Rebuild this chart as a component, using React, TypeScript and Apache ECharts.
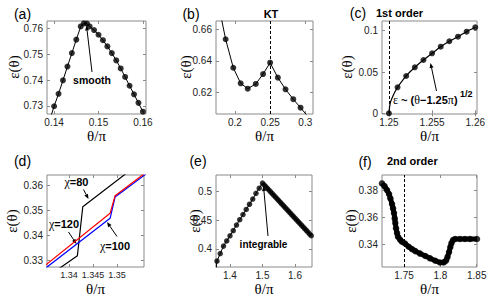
import React, { useEffect, useRef } from "react";
import * as echarts from "echarts";

// ---------- data ----------
// (a) smooth
const aTailTheta = [0.1392];
const aTailEps = [0.7255];
const aTheta = [0.140, 0.141, 0.142, 0.143, 0.144, 0.145, 0.146, 0.1467, 0.1474, 0.148, 0.149, 0.150, 0.151, 0.152, 0.153, 0.154, 0.155, 0.156, 0.157, 0.158, 0.159, 0.160];
const aEps = [0.7299, 0.7347, 0.7399, 0.7452, 0.7504, 0.7556, 0.7607, 0.7619, 0.7618, 0.7607, 0.7593, 0.7575, 0.7554, 0.7530, 0.7504, 0.7476, 0.7445, 0.7412, 0.7378, 0.7345, 0.7312, 0.7278];

// (b) KT
const bStartTheta = [0.181];
const bStartEps = [0.6662];
const bTheta = [0.1867, 0.1976, 0.2081, 0.2181, 0.2296, 0.2400, 0.2500, 0.2610, 0.2719, 0.2829, 0.2933];
const bEps = [0.6537, 0.6356, 0.6257, 0.6223, 0.6253, 0.6316, 0.6388, 0.6293, 0.6219, 0.6156, 0.6102];
const bEndTheta = [0.3040];
const bEndEps = [0.6045];

// (c) 1st order
const cTheta = [1.250, 1.251, 1.252, 1.253, 1.254, 1.255, 1.256, 1.257, 1.258, 1.259, 1.260];
const cEps = [0, 0.0315, 0.0452, 0.0557, 0.0645, 0.0726, 0.0806, 0.0872, 0.0927, 0.0988, 0.1041];
const cCurveTheta = [1.25015, 1.25043, 1.2507];
const cCurveEps = [0.0122, 0.0201, 0.0262];

// (d) chi = 80, 100, 120
const d80Theta = [1.33708, 1.34173, 1.34285, 1.35375];
const d80Eps = [0.32544, 0.33172, 0.35132, 0.36736];
const d100Theta = [1.33354, 1.34854, 1.34958, 1.35688];
const d100Eps = [0.3244, 0.34668, 0.3552, 0.3656];
const d120Theta = [1.33354, 1.34854, 1.34958, 1.35688];
const d120Eps = [0.3256, 0.34868, 0.35572, 0.36628];

// (e) integrable
const eTailTheta = [1.3575];
const eTailEps = [0.366];
const eTheta = [1.36, 1.37, 1.38, 1.39, 1.40, 1.41, 1.42, 1.43, 1.44, 1.45, 1.46, 1.47, 1.48, 1.49, 1.50,
  1.505, 1.51, 1.515, 1.52, 1.525, 1.53, 1.535, 1.54, 1.545, 1.55, 1.555, 1.56, 1.565, 1.57, 1.575,
  1.58, 1.585, 1.59, 1.595, 1.60, 1.605, 1.61, 1.615, 1.62, 1.625, 1.63, 1.635, 1.64, 1.645, 1.65];
const eEps = [0.379, 0.392, 0.405, 0.414, 0.423, 0.432, 0.4417, 0.451, 0.460, 0.469, 0.478, 0.487, 0.497, 0.506, 0.515,
  0.5119, 0.5089, 0.5058, 0.5027, 0.4997, 0.4966, 0.4935, 0.4905, 0.4874, 0.4844, 0.4813, 0.4782, 0.4752, 0.4721, 0.4690,
  0.4660, 0.4629, 0.4598, 0.4568, 0.4537, 0.4506, 0.4476, 0.4445, 0.4415, 0.4384, 0.4353, 0.4323, 0.4292, 0.4261, 0.4231];

// (f) 2nd order
const fTheta = [1.7197, 1.7232, 1.7266, 1.7294, 1.7312, 1.7335, 1.7349, 1.7362, 1.7372, 1.7380, 1.7390, 1.7404, 1.7417, 1.7445, 1.7472, 1.7514, 1.7565, 1.7610, 1.7655, 1.7720, 1.7793, 1.7858, 1.7931, 1.7995, 1.8046, 1.8078, 1.8098, 1.8119, 1.8137, 1.8153, 1.8174, 1.8202, 1.8270, 1.8339, 1.8408, 1.8504];
const fEps = [0.3849, 0.3829, 0.3800, 0.3771, 0.3739, 0.3697, 0.3665, 0.3631, 0.3591, 0.3557, 0.3518, 0.3483, 0.3456, 0.3435, 0.3419, 0.3406, 0.3382, 0.3365, 0.3350, 0.3332, 0.3314, 0.3297, 0.3279, 0.3266, 0.3267, 0.3280, 0.3306, 0.3343, 0.3380, 0.3409, 0.3432, 0.3439, 0.3439, 0.3439, 0.3439, 0.3439];

// axes
const xRanges = [[0.1384, 0.1607], [0.173, 0.311], [1.2492, 1.2602], [1.3354, 1.3556], [1.357, 1.6523], [1.7197, 1.8504]];
const yRanges = [[0.7269, 0.7628], [0.6062, 0.6653], [-0.0008, 0.1117], [0.3272, 0.364], [0.3686, 0.529], [0.3233, 0.3911]];
const xTicks = [[0.14, 0.15, 0.16], [0.2, 0.25, 0.3], [1.25, 1.255, 1.26], [1.34, 1.345, 1.35], [1.4, 1.5, 1.6], [1.75, 1.8, 1.85]];
const yTicks = [[0.73, 0.74, 0.75, 0.76], [0.62, 0.64, 0.66], [0, 0.05, 0.1], [0.33, 0.34, 0.35, 0.36], [0.4, 0.45, 0.5], [0.34, 0.36, 0.38]];
const dashedAt = [null, 0.25, 1.25, null, null, 1.75];
const panelLabels = ["(a)", "(b)", "(c)", "(d)", "(e)", "(f)"];

// ---------- layout ----------
const grids = [
  { left: 47, top: 21, width: 99, height: 93 },
  { left: 216, top: 21, width: 97, height: 93 },
  { left: 382, top: 21, width: 95, height: 93 },
  { left: 47, top: 175, width: 97, height: 92 },
  { left: 216, top: 175, width: 96, height: 92 },
  { left: 382, top: 175, width: 95, height: 92 },
];
const xLabelSize = [10, 10, 10, 9, 10, 10];

const SANS = '"Liberation Sans", Arial, Helvetica, sans-serif';
const SERIF = '"Liberation Serif", "Times New Roman", serif';
const AXC = "#8a8a8a";

const zip = (xs: number[], ys: number[]) => xs.map((x, i) => [x, ys[i]]);
const fmt = (v: number) => String(+(+v).toFixed(4));

function arrow(x1: number, y1: number, x2: number, y2: number) {
  const dx = x2 - x1, dy = y2 - y1;
  const L = Math.hypot(dx, dy);
  const ux = dx / L, uy = dy / L;
  const h = 5, w = 2;
  const bx = x2 - ux * h, by = y2 - uy * h;
  return [
    { type: "line", shape: { x1, y1, x2: bx, y2: by }, style: { stroke: "#000", lineWidth: 1 } },
    {
      type: "polygon",
      shape: { points: [[x2, y2], [bx - uy * w, by + ux * w], [bx + uy * w, by - ux * w]] },
      style: { fill: "#000" },
    },
  ];
}

function txt(text: string, x: number, y: number, font: string, align = "center", rotation = 0, rich?: any) {
  return {
    type: "text",
    x,
    y,
    rotation,
    style: {
      text,
      font,
      fill: "#000",
      align,
      verticalAlign: "middle",
      textAlign: align,
      textVerticalAlign: "middle",
      ...(rich ? { rich } : {}),
    },
  };
}

function buildOption() {
  const xAxis: any[] = [];
  const yAxis: any[] = [];
  grids.forEach((_, i) => {
    const base = {
      type: "value",
      gridIndex: i,
      axisLine: { show: false },
      splitLine: { show: false },
    };
    xAxis.push({
      ...base,
      min: xRanges[i][0],
      max: xRanges[i][1],
      position: "bottom",
      axisTick: { inside: true, length: 3, lineStyle: { color: AXC }, customValues: xTicks[i] },
      axisLabel: {
        customValues: xTicks[i], formatter: fmt, margin: 3, fontSize: xLabelSize[i], color: "#222",
        fontFamily: SANS, hideOverlap: false,
      },
    });
    xAxis.push({
      ...base,
      min: xRanges[i][0],
      max: xRanges[i][1],
      position: "top",
      axisTick: { inside: true, length: 3, lineStyle: { color: AXC }, customValues: xTicks[i] },
      axisLabel: { show: false },
    });
    yAxis.push({
      ...base,
      min: yRanges[i][0],
      max: yRanges[i][1],
      position: "left",
      axisTick: { inside: true, length: 3, lineStyle: { color: AXC }, customValues: yTicks[i] },
      axisLabel: {
        customValues: yTicks[i], formatter: fmt, margin: 4, fontSize: 10, color: "#222",
        fontFamily: SANS, hideOverlap: false,
      },
    });
    yAxis.push({
      ...base,
      min: yRanges[i][0],
      max: yRanges[i][1],
      position: "right",
      axisTick: { inside: true, length: 3, lineStyle: { color: AXC }, customValues: yTicks[i] },
      axisLabel: { show: false },
    });
  });

  const ax = (i: number) => ({ xAxisIndex: 2 * i, yAxisIndex: 2 * i });
  const lineS = (i: number, data: number[][], color = "#000", width = 1) => ({
    type: "line", ...ax(i), data, symbol: "none", clip: true, silent: true,
    lineStyle: { color, width }, z: 2,
  });
  const dotS = (i: number, data: number[][], size = 6) => ({
    type: "scatter", ...ax(i), data, symbol: "circle", symbolSize: size, silent: true,
    itemStyle: { color: "#000" }, z: 3,
  });
  const markDash = (i: number) =>
    dashedAt[i] == null
      ? undefined
      : {
          silent: true, symbol: ["none", "none"], label: { show: false },
          lineStyle: { type: [3, 2], color: "#000", width: 1 },
          data: [{ xAxis: dashedAt[i] }],
        };

  const series: any[] = [
    // a
    lineS(0, zip([...aTailTheta, ...aTheta], [...aTailEps, ...aEps])),
    dotS(0, zip(aTheta, aEps)),
    // b
    { ...lineS(1, zip([...bStartTheta, ...bTheta, ...bEndTheta], [...bStartEps, ...bEps, ...bEndEps])), markLine: markDash(1) },
    dotS(1, zip(bTheta, bEps)),
    // c
    {
      ...lineS(2, zip([cTheta[0], ...cCurveTheta, ...cTheta.slice(1)], [cEps[0], ...cCurveEps, ...cEps.slice(1)]), "#000", 1.2),
      smooth: 0.3,
      markLine: markDash(2),
    },
    dotS(2, zip(cTheta, cEps)),
    // d
    lineS(3, zip(d80Theta, d80Eps), "#000", 1.2),
    lineS(3, zip(d100Theta, d100Eps), "#0000ff", 1.2),
    lineS(3, zip(d120Theta, d120Eps), "#ff0000", 1.2),
    // e
    lineS(4, zip([...eTailTheta, ...eTheta], [...eTailEps, ...eEps])),
    dotS(4, zip(eTheta, eEps), 5.5),
    // f
    { ...lineS(5, zip(fTheta, fEps), "#000", 5), markLine: markDash(5) },
    dotS(5, zip(fTheta, fEps), 6.5),
  ];

  const graphic: any[] = [];
  // panel labels
  const labelPos = [[22.5, 14], [191, 14], [358, 13], [22.5, 161], [198, 161], [365, 162]];
  panelLabels.forEach((t, i) => graphic.push(txt(t, labelPos[i][0], labelPos[i][1], `14px ${SANS}`)));
  graphic.push(txt("KT", 271, 13.5, `bold 11px ${SANS}`));
  graphic.push(txt("1st order", 376, 13, `bold 11px ${SANS}`, "left"));
  graphic.push(txt("2nd order", 387, 161, `bold 11px ${SANS}`, "left"));

  // axis names
  const yName = [[13.5, 67], [186, 67], [347, 67], [12, 221], [195, 221], [351, 221]];
  yName.forEach(([x, y]) => graphic.push(txt("ε(θ)", x, y, `15px ${SERIF}`, "center", Math.PI / 2)));
  grids.forEach((g, i) => {
    const cx = g.left + g.width / 2;
    const cy = i < 3 ? 136 : 289;
    graphic.push(txt("θ/π", cx, cy, `15px ${SERIF}`));
  });

  // annotations
  graphic.push(txt("smooth", 92, 80, `bold 10.5px ${SANS}`));
  graphic.push(...arrow(92, 72, 86.5, 25.5));

  graphic.push(
    txt("{e|ε}{b| ~ (}{g|θ}{b|−1.25}{g|π}{b|)}", 393, 100, `bold 11px ${SANS}`, "left", 0, {
      e: { font: `12px ${SERIF}`, fill: "#000" },
      g: { font: `12px ${SERIF}`, fill: "#000" },
      b: { font: `bold 11px ${SANS}`, fill: "#000" },
    })
  );
  graphic.push(txt("1/2", 460, 94, `bold 9px ${SANS}`, "left"));
  graphic.push(...arrow(436.5, 91, 430.5, 63));

  const chiRich = {
    g: { font: `12px ${SERIF}`, fill: "#000" },
    b: { font: `bold 11px ${SANS}`, fill: "#000" },
  };
  graphic.push(txt("{g|χ}{b|=80}", 76.5, 182, `bold 11px ${SANS}`, "center", 0, chiRich));
  graphic.push(...arrow(83.5, 189.5, 88.5, 199));
  graphic.push(txt("{g|χ}{b|=120}", 64, 224, `bold 11px ${SANS}`, "center", 0, chiRich));
  graphic.push(...arrow(68.5, 232, 76.5, 244));
  graphic.push(txt("{g|χ}{b|=100}", 115, 245.5, `bold 11px ${SANS}`, "center", 0, chiRich));
  graphic.push(...arrow(117, 236.5, 107, 222));

  graphic.push(txt("integrable", 263.5, 244, `bold 10px ${SANS}`));
  graphic.push(...arrow(268, 236, 263.5, 186));

  return {
    animation: false,
    backgroundColor: "#fff",
    grid: grids.map((g) => ({ ...g, show: true, borderColor: AXC, borderWidth: 1, backgroundColor: "transparent" })),
    xAxis,
    yAxis,
    series,
    graphic,
  };
}

export default function App() {
  const ref = useRef<HTMLDivElement>(null);
  useEffect(() => {
    if (!ref.current) return;
    const chart = echarts.init(ref.current, null, { renderer: "svg" });
    chart.setOption(buildOption() as any);
    return () => chart.dispose();
  }, []);
  return <div ref={ref} style={{ position: "absolute", left: 0, top: 0, width: 490, height: 298 }} />;
}
